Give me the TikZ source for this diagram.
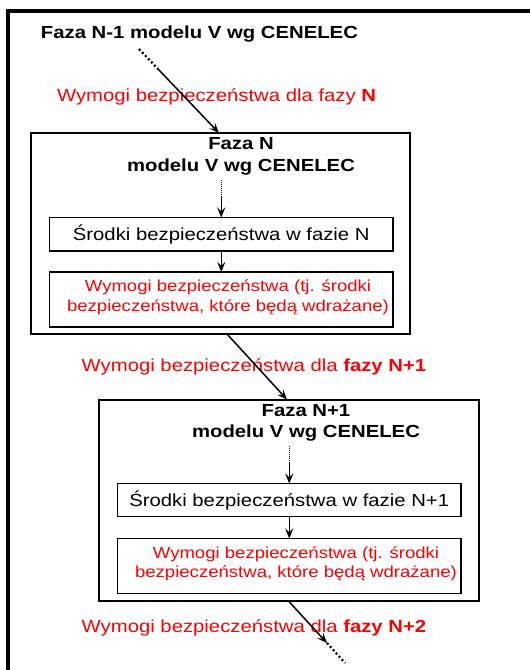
\documentclass[tikz,border=0pt]{standalone}
\usepackage{fontspec}
\setmainfont{Liberation Sans}[FakeStretch=1.16]
\usetikzlibrary{arrows.meta,calc}
\definecolor{reqred}{RGB}{255,0,0}
\begin{document}
\begin{tikzpicture}[x=1pt,y=-1pt,
  every node/.style={font=\fontsize{17.5}{20}\selectfont, inner sep=0pt, outer sep=0pt},
  phasebox/.style={draw, line width=2pt, anchor=north west, minimum width=380pt, minimum height=201pt},
  stepbox/.style={draw, line width=1.8pt, anchor=north west, minimum width=343.5pt},
  heading/.style={font=\bfseries\fontsize{17.5}{21.5}\selectfont, align=center, anchor=north},
  reqlabel/.style={text=reqred, anchor=base west},
  reqtext/.style={text=reqred, align=center, anchor=north, font=\fontsize{16}{19.6}\selectfont},
  flow/.style={line width=1.5pt, -{Stealth[length=10pt,width=8pt,inset=4pt]}},
  bigdots/.style={line width=2.2pt, dash pattern=on 2pt off 2.4pt},
  smalldots/.style={line width=1.2pt, dash pattern=on 1pt off 1pt},
]
\useasboundingbox (0,0) rectangle (530,670);

% open frame along the top and left edges
\draw[line width=4pt] (530,11) -- (8,11) -- (8,672);

% previous phase
\node[anchor=base west, font=\bfseries\fontsize{17.5}{20}\selectfont] (prev) at (41,38) {Faza N-1 modelu V wg CENELEC};
\node[reqlabel] (reqN) at (57,101.5) {Wymogi bezpieczeństwa dla fazy \textbf{N}};

% phase N
\node[phasebox, minimum width=379pt] (boxN) at (31,133) {};
\node[heading] (headN) at (241,137.5) {Faza N\\modelu V wg CENELEC};
\node[stepbox, minimum height=33.5pt] (srodN) at (49.5,217.5) {Środki bezpieczeństwa w fazie N};
\node[stepbox, minimum height=55pt] (wymN) at (49.5,272) {};
\node[reqtext] (wymNtxt) at (228,280) {Wymogi bezpieczeństwa (tj. środki\\bezpieczeństwa, które będą wdrażane)};

\node[reqlabel] (reqN1) at (81.7,371) {Wymogi bezpieczeństwa dla \textbf{fazy N+1}};

% phase N+1
\node[phasebox] (boxN1) at (99,399.5) {};
\node[heading] (headN1) at (306,404) {Faza N+1\\modelu V wg CENELEC};
\node[stepbox, minimum height=33pt] (srodN1) at (117.5,483.5) {Środki bezpieczeństwa w fazie N+1};
\node[stepbox, minimum height=55pt] (wymN1) at (117.5,538.5) {};
\node[reqtext] (wymN1txt) at (296,546.6) {Wymogi bezpieczeństwa (tj. środki\\bezpieczeństwa, które będą wdrażane)};

\node[reqlabel] (reqN2) at (81.7,632.7) {Wymogi bezpieczeństwa dla \textbf{fazy N+2}};

% connector points
\coordinate (inA) at (139,49);
\coordinate (inB) at (158,69);
\coordinate (inTip) at ($(boxN.north west)+(188,0)$);
\coordinate (dN0) at (221.25,180);
\coordinate (dN1) at (221.25,197);
\coordinate (outN) at ($(boxN.south west)+(196,0)$);
\coordinate (inN1) at ($(boxN1.north west)+(188,0)$);
\coordinate (dN10) at (289.25,446);
\coordinate (dN11) at (289.25,463);
\coordinate (outN1) at ($(boxN1.south west)+(189,0)$);
\coordinate (nextTip) at (327,643);
\coordinate (nextEnd) at (345,663);

% connectors
\draw[bigdots] (inA) -- (inB);
\draw[flow] (inB) -- (inTip);
\draw[smalldots] (dN0) -- (dN1);
\draw[flow] (dN1) -- (srodN.north);
\draw[flow] (srodN.south) -- (wymN.north);
\draw[flow] (outN) -- (inN1);
\draw[smalldots] (dN10) -- (dN11);
\draw[flow] (dN11) -- (srodN1.north);
\draw[flow] (srodN1.south) -- (wymN1.north);
\draw[flow] (outN1) -- (nextTip);
\draw[bigdots] (nextTip) -- (nextEnd);
\end{tikzpicture}
\end{document}
